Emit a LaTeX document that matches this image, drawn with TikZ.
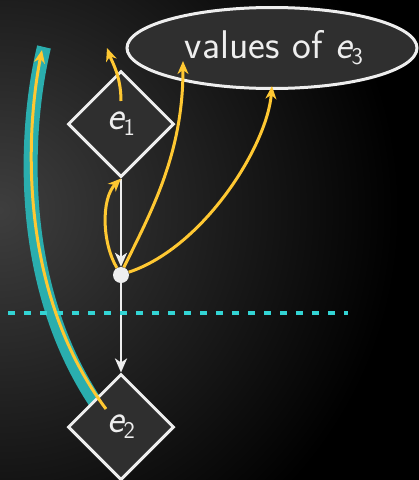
\documentclass[tikz,border=0pt]{standalone}
\usetikzlibrary{shapes.geometric,arrows.meta}
\definecolor{bgin}{HTML}{3E3E3E}
\definecolor{nodefill}{HTML}{2F2F2F}
\definecolor{wline}{HTML}{EEEEEE}
\definecolor{tealband}{HTML}{2AAEAE}
\definecolor{cyandash}{HTML}{33D4D4}
\definecolor{yel}{HTML}{FFC832}
\newcommand{\evar}[1]{{\slshape e}\raisebox{-6pt}{\fontsize{24}{24}\selectfont #1}}
\tikzset{
  bigfont/.style={font=\sffamily\fontsize{40}{46}\selectfont},
  dmd/.style={diamond, draw=wline, line width=3pt, fill=nodefill,
    minimum width=106pt, minimum height=106pt, inner sep=0pt, text=wline, bigfont},
  valnode/.style={ellipse, draw=wline, line width=3pt, fill=nodefill,
    minimum width=290pt, minimum height=81pt, inner sep=0pt, text=wline, bigfont},
  dotnode/.style={circle, fill=wline, minimum size=16pt, inner sep=0pt},
  warrow/.style={draw=wline, line width=2.5pt, -{Stealth[length=14pt,width=12pt,inset=4pt]}},
  yarrow/.style={draw=yel, line width=3pt, -{Stealth[length=13pt,width=11pt,inset=4pt]}},
  band/.style={draw=tealband, line width=14pt},
  divider/.style={draw=cyandash, line width=4pt, dash pattern=on 7pt off 9pt}
}
\begin{document}
\begin{tikzpicture}[x=1pt,y=-1pt]
\useasboundingbox (0,0) rectangle (419,480);
\begin{scope}
  \clip (0,0) rectangle (419,480);
  \fill[black] (0,0) rectangle (419,480);
  \shade[inner color=bgin, outer color=black] (0,210) circle (400);
\end{scope}
\coordinate (bandtop) at (44,47);
\coordinate (bandbot) at (102,412);
\coordinate (dashL) at (8,313);
\coordinate (dashR) at (348,313);
\coordinate (uptip) at (107,48);
% teal band (under nodes)
\draw[band] (bandtop) .. controls (24,130) and (15,290) .. (bandbot);
% nodes and white arrows
\node[dmd] (e1) at (121,124) {\evar{1}};
\node[dmd] (e2) at (121,427) {\evar{2}};
\node[dotnode] (dot) at (121,275) {};
\draw[warrow] (e1.south) -- (dot.north);
\draw[warrow] (dot.south) -- (e2.north);
\node[valnode] (e3) at (272,48) {\hspace*{4pt}values of \evar{3}};
% dashed divider
\draw[divider] (dashL) -- (dashR);
% yellow arrows
\draw[yarrow] ([shift={(-15,-18)}]e2.center) .. controls (17,290) and (26,130) .. ([shift={(-2,3)}]bandtop);
\draw[yarrow] ([shift={(0,-23)}]e1.center) .. controls +(0,-25) and +(5,14) .. (uptip);
\draw[yarrow] (dot.120) .. controls +(-15,-25) and +(-20,20) .. (e1.south);
\draw[yarrow] (dot.70) .. controls +(30,-60) and +(0,90) .. ([shift={(-89,13)}]e3.center);
\draw[yarrow] (dot.20) .. controls +(75,-25) and +(-5,60) .. ([yshift=4pt]e3.south);
\end{tikzpicture}
\end{document}
